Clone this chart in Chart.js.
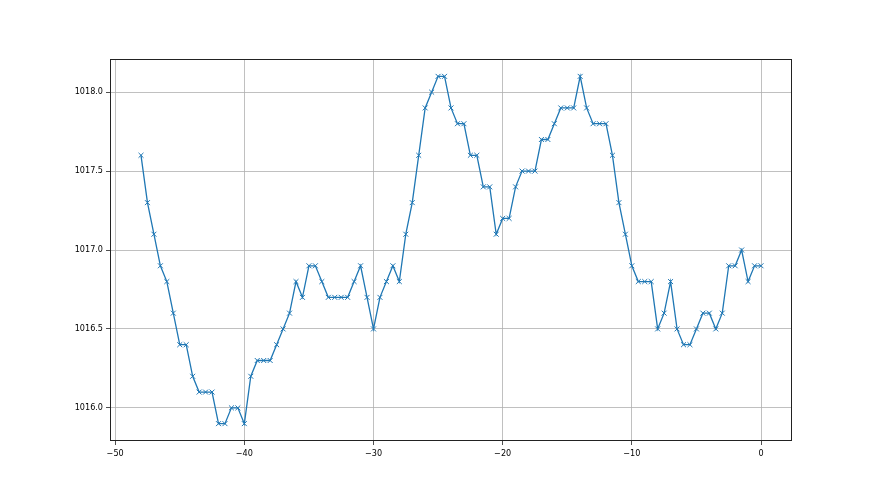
<!DOCTYPE html>
<html>
<head>
<meta charset="utf-8">
<script src="https://cdn.jsdelivr.net/npm/chart.js@4"></script>
<style>
  html, body { margin: 0; padding: 0; background: #fff; }
  #wrap { width: 880px; height: 495px; }
</style>
</head>
<body>
<div id="wrap"><canvas id="pressureChart"></canvas></div>
<script>
// hours relative to now
const hours = [
  -48, -47.5, -47, -46.5, -46, -45.5, -45, -44.5, -44, -43.5, -43, -42.5,
  -42, -41.5, -41, -40.5, -40, -39.5, -39, -38.5, -38, -37.5, -37, -36.5,
  -36, -35.5, -35, -34.5, -34, -33.5, -33, -32.5, -32, -31.5, -31, -30.5,
  -30, -29.5, -29, -28.5, -28, -27.5, -27, -26.5, -26, -25.5, -25, -24.5,
  -24, -23.5, -23, -22.5, -22, -21.5, -21, -20.5, -20, -19.5, -19, -18.5,
  -18, -17.5, -17, -16.5, -16, -15.5, -15, -14.5, -14, -13.5, -13, -12.5,
  -12, -11.5, -11, -10.5, -10, -9.5, -9, -8.5, -8, -7.5, -7, -6.5,
  -6, -5.5, -5, -4.5, -4, -3.5, -3, -2.5, -2, -1.5, -1, -0.5, 0
];

const pressure = [
  1017.6, 1017.3, 1017.1, 1016.9, 1016.8, 1016.6, 1016.4, 1016.4, 1016.2, 1016.1, 1016.1, 1016.1,
  1015.9, 1015.9, 1016.0, 1016.0, 1015.9, 1016.2, 1016.3, 1016.3, 1016.3, 1016.4, 1016.5, 1016.6,
  1016.8, 1016.7, 1016.9, 1016.9, 1016.8, 1016.7, 1016.7, 1016.7, 1016.7, 1016.8, 1016.9, 1016.7,
  1016.5, 1016.7, 1016.8, 1016.9, 1016.8, 1017.1, 1017.3, 1017.6, 1017.9, 1018.0, 1018.1, 1018.1,
  1017.9, 1017.8, 1017.8, 1017.6, 1017.6, 1017.4, 1017.4, 1017.1, 1017.2, 1017.2, 1017.4, 1017.5,
  1017.5, 1017.5, 1017.7, 1017.7, 1017.8, 1017.9, 1017.9, 1017.9, 1018.1, 1017.9, 1017.8, 1017.8,
  1017.8, 1017.6, 1017.3, 1017.1, 1016.9, 1016.8, 1016.8, 1016.8, 1016.5, 1016.6, 1016.8, 1016.5,
  1016.4, 1016.4, 1016.5, 1016.6, 1016.6, 1016.5, 1016.6, 1016.9, 1016.9, 1017.0, 1016.8, 1016.9, 1016.9
];

const xTicks = [-50, -40, -30, -20, -10, 0];
const yTicks = [1016.0, 1016.5, 1017.0, 1017.5, 1018.0];

const frame = {
  id: 'frame',
  afterDraw(chart) {
    const { ctx, chartArea: a } = chart;
    ctx.save();
    ctx.strokeStyle = '#222';
    ctx.lineWidth = 1;
    ctx.strokeRect(a.left + 0.5, a.top + 0.5, a.right - a.left - 1, a.bottom - a.top - 1);
    ctx.restore();
  }
};

const gridOpts = {
  color: '#b0b0b0',
  lineWidth: 0.8,
  drawTicks: true,
  tickLength: 4,
  tickColor: '#222'
};

const tickFont = { family: '"DejaVu Sans Condensed", "Liberation Sans Narrow", "DejaVu Sans"', size: 9 };

new Chart(document.getElementById('pressureChart'), {
  type: 'line',
  data: {
    datasets: [{
      data: hours.map((h, i) => ({ x: h, y: pressure[i] })),
      borderColor: '#1f77b4',
      backgroundColor: '#1f77b4',
      borderWidth: 1.3,
      pointStyle: 'crossRot',
      pointRadius: 3.5,
      pointBorderWidth: 1,
      tension: 0,
      fill: false
    }]
  },
  options: {
    responsive: true,
    maintainAspectRatio: false,
    animation: false,
    layout: { padding: { left: 45, right: 88, top: 59, bottom: 0 } },
    plugins: { legend: { display: false }, tooltip: { enabled: false } },
    scales: {
      x: {
        type: 'linear',
        min: -50.4,
        max: 2.4,
        afterBuildTicks: s => { s.ticks = xTicks.map(v => ({ value: v })); },
        afterFit: s => { s.height = 54; },
        grid: gridOpts,
        border: { display: false },
        ticks: {
          color: '#000',
          padding: 3,
          maxRotation: 0,
          font: tickFont,
          callback: v => String(v).replace('-', '\u2212')
        }
      },
      y: {
        type: 'linear',
        min: 1015.79,
        max: 1018.21,
        afterBuildTicks: s => { s.ticks = yTicks.map(v => ({ value: v })); },
        afterFit: s => { s.width = 65; },
        grid: gridOpts,
        border: { display: false },
        ticks: {
          color: '#000',
          padding: 3,
          font: tickFont,
          callback: v => v.toFixed(1)
        }
      }
    }
  },
  plugins: [frame]
});
</script>
</body>
</html>
